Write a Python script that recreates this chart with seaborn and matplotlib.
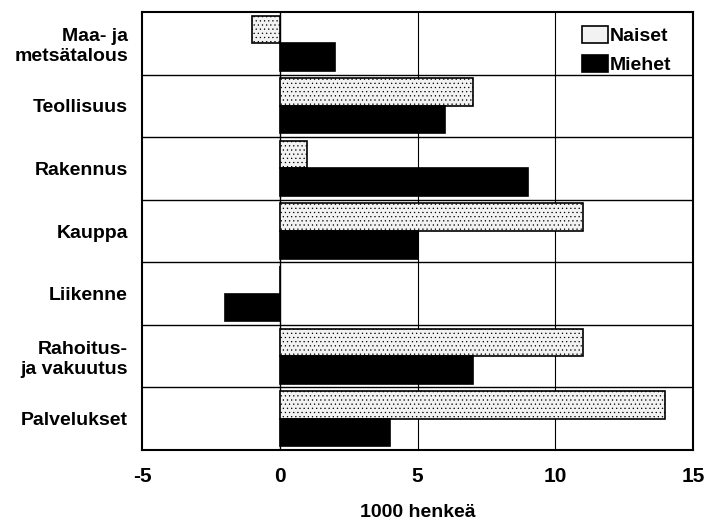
import matplotlib
matplotlib.use("Agg")
import matplotlib.pyplot as plt
import seaborn as sns
import pandas as pd

# toimialat ja muutos (1000 henkeä)
toimialat = ["Maa- ja\nmetsätalous", "Teollisuus", "Rakennus", "Kauppa",
             "Liikenne", "Rahoitus-\nja vakuutus", "Palvelukset"]
naiset = [-1, 7, 1, 11, 0, 11, 14]
miehet = [2, 6, 9, 5, -2, 7, 4]
x_ticks = [-5, 0, 5, 10, 15]

df = pd.DataFrame({
    "toimiala": toimialat * 2,
    "arvo": naiset + miehet,
    "ryhma": ["Naiset"] * len(toimialat) + ["Miehet"] * len(toimialat),
})

sns.set_style("white")
plt.rcParams["font.family"] = ["Liberation Sans", "DejaVu Sans"]
plt.rcParams["font.weight"] = "bold"
plt.rcParams["text.color"] = "black"
plt.rcParams["xtick.color"] = "black"
plt.rcParams["ytick.color"] = "black"
plt.rcParams["axes.labelcolor"] = "black"
plt.rcParams["hatch.linewidth"] = 0.4

fig = plt.figure(figsize=(7.05, 5.23), dpi=100)
ax = fig.add_axes([0.2014, 0.1396, 0.7816, 0.8374])

sns.barplot(data=df, x="arvo", y="toimiala", hue="ryhma", order=toimialat,
            hue_order=["Naiset", "Miehet"], palette={"Naiset": "#f2f2f2", "Miehet": "black"},
            orient="h", width=0.88, saturation=1, edgecolor="black", linewidth=1.2, ax=ax)

# pisteytys naisten palkkeihin
for bar in ax.containers[0]:
    bar.set_hatch("....")

for x in [0, 5, 10]:
    ax.axvline(x, color="black", lw=1.0 if x == 0 else 0.8, zorder=0)
for k in range(len(toimialat) - 1):
    ax.axhline(k + 0.5, color="black", lw=1.0, zorder=0)

ax.set_xlim(-5, 15)
ax.set_ylim(len(toimialat) - 0.5, -0.5)
ax.set_xticks(x_ticks)
ax.set_xticklabels([str(v) for v in x_ticks], fontsize=15, fontweight="bold")
ax.set_yticklabels(toimialat, fontsize=14, fontweight="bold", ha="right", linespacing=1.2)
ax.tick_params(axis="y", length=0, pad=10)
ax.tick_params(axis="x", length=0, pad=12)
ax.set_ylabel("")
ax.set_xlabel("1000 henkeä", fontsize=14, fontweight="bold", labelpad=13)
for s in ax.spines.values():
    s.set_linewidth(1.5)
    s.set_color("black")

leg = ax.legend(loc="upper right", frameon=False, fontsize=14, handlelength=1.3,
                handleheight=1.0, handletextpad=0.1, labelspacing=0.5,
                borderaxespad=0.3, bbox_to_anchor=(0.985, 1.0))

fig.savefig("out.png", dpi=100)
